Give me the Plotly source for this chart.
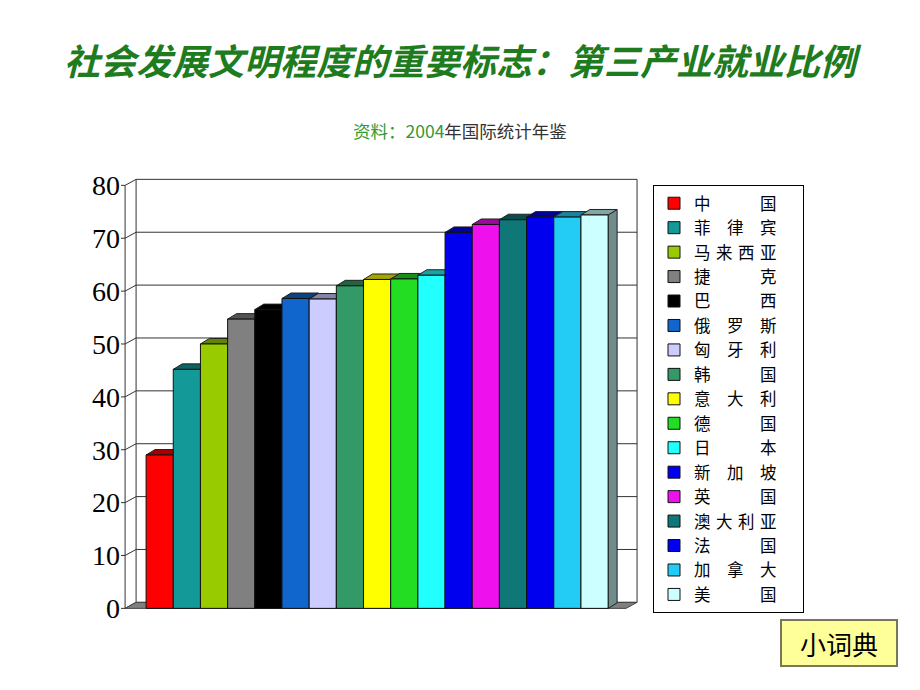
"""
第三产业就业比例 - 3D-style bar chart
"""

import plotly.graph_objects as go


# data
countries = ['中\u3000\u3000\u3000国', '菲\u3000律\u3000宾', '马\u2004来\u2004西\u2004亚', '捷\u3000\u3000\u3000克',
             '巴\u3000\u3000\u3000西', '俄\u3000罗\u3000斯', '匈\u3000牙\u3000利', '韩\u3000\u3000\u3000国',
             '意\u3000大\u3000利', '德\u3000\u3000\u3000国', '日\u3000\u3000\u3000本', '新\u3000加\u3000坡',
             '英\u3000\u3000\u3000国', '澳\u2004大\u2004利\u2004亚', '法\u3000\u3000\u3000国', '加\u3000拿\u3000大',
             '美\u3000\u3000\u3000国']
values = [29.0, 45.2, 50.0, 54.7, 56.5, 58.6, 58.5, 61.0, 62.2, 62.3, 63.0, 71.1, 72.6, 73.5, 74.0, 74.0, 74.4]
colors = ['#FF0000', '#149999', '#99CC00', '#808080', '#000000', '#1066CC', '#CCCCFF', '#339966', '#FFFF00',
          '#22DD22', '#22FFFF', '#0000EE', '#EE11EE', '#0F7777', '#0000EE', '#22CCF5', '#CCFFFF']
y_ticks = [0, 10, 20, 30, 40, 50, 60, 70, 80]


# geometry of the fake 3D box (data units)
x0 = -1.2727          # front axis
x_wall = 17.564       # right edge of back wall
dxw, dyw = 0.405, 1.135   # wall depth offset
ddx, ddy = 0.33, 1.04     # bar depth offset
W, H = 920, 690
OFF = 8   # page body margin


def darker(c, f=0.6):
    c = c.lstrip('#')
    r, g, b = (int(c[i:i+2], 16) for i in (0, 2, 4))
    return '#%02x%02x%02x' % (int(r*f), int(g*f), int(b*f))


def px(x):
    return (x - OFF) / W


def py(y):
    return (H - y + OFF) / H


shapes = []
line = dict(color='#333333', width=1)
# back wall grid lines + diagonals to the front axis
for v in y_ticks:
    shapes.append(dict(type='line', xref='x', yref='y', layer='below', x0=x0+dxw, y0=v+dyw, x1=x_wall, y1=v+dyw, line=line))
    shapes.append(dict(type='line', xref='x', yref='y', layer='below', x0=x0, y0=v, x1=x0+dxw, y1=v+dyw, line=line))
    shapes.append(dict(type='line', xref='x', yref='y', layer='below', x0=x0-0.15, y0=v, x1=x0, y1=v, line=line))
shapes.append(dict(type='line', xref='x', yref='y', layer='below', x0=x0+dxw, y0=dyw, x1=x0+dxw, y1=80+dyw, line=line))
shapes.append(dict(type='line', xref='x', yref='y', layer='below', x0=x_wall, y0=dyw, x1=x_wall, y1=80+dyw, line=line))
shapes.append(dict(type='line', xref='x', yref='y', layer='below', x0=x0, y0=0, x1=x0, y1=80, line=line))
# floor
shapes.append(dict(type='path', xref='x', yref='y', layer='below',
                   path=f'M{x0},0 L{x_wall-dxw},0 L{x_wall},{dyw} L{x0+dxw},{dyw} Z',
                   fillcolor='#808080', line=dict(color='#404040', width=1)))
# bar sides and tops
for i, (v, c) in enumerate(zip(values, colors)):
    shapes.append(dict(type='path', xref='x', yref='y', layer='below',
                       path=f'M{i+0.5},0 L{i+0.5},{v} L{i+0.5+ddx},{v+ddy} L{i+0.5+ddx},{ddy} Z',
                       fillcolor=darker(c, 0.55), line=dict(color='#222222', width=1)))
    shapes.append(dict(type='path', xref='x', yref='y', layer='below',
                       path=f'M{i-0.5},{v} L{i+0.5},{v} L{i+0.5+ddx},{v+ddy} L{i-0.5+ddx},{v+ddy} Z',
                       fillcolor=darker(c, 0.65), line=dict(color='#222222', width=1)))

fig = go.Figure()
for i, (name, v, c) in enumerate(zip(countries, values, colors)):
    # trailing ideographic space widens the legend box a bit
    fig.add_trace(go.Bar(x=[i], y=[v], width=1, name=name + '\u3000\u2005',
                         marker=dict(color=c, line=dict(color='#111111', width=1))))

# plot area placed with domains so the legend does not push margins
fig.update_layout(
    width=W, height=H, barmode='overlay',
    margin=dict(l=0, r=0, t=0, b=0, autoexpand=False),
    paper_bgcolor='white', plot_bgcolor='white',
    font=dict(family='Noto Sans CJK SC', color='black'),
    xaxis=dict(domain=[px(121), px(641)], range=[x0-0.15, x0-0.15+520/27.18], visible=False, automargin=False),
    yaxis=dict(domain=[py(611), py(178)], range=[-0.5, -0.5+433/5.2875], tickvals=y_ticks, showgrid=False,
               zeroline=False, showline=False, ticks='', automargin=False,
               tickfont=dict(family='Liberation Serif', size=28, color='black')),
    shapes=shapes,
    showlegend=True,
    legend=dict(x=px(653), y=py(185), xanchor='left', yanchor='top', bgcolor='white',
                bordercolor='black', borderwidth=1, font=dict(size=16.5, family='Noto Sans CJK SC', color='black')),
    annotations=[
        dict(text='社会发展文明程度的重要标志：第三产业就业比例', xref='paper', yref='paper', x=px(463), y=py(59),
             xanchor='center', yanchor='middle', showarrow=False,
             font=dict(size=36, color='#1E7B1E', weight='bold', style='italic')),
        dict(text="<span style='color:#339933'>资料：2004</span><span style='color:#333333'>年国际统计年鉴</span>",
             xref='paper', yref='paper', x=px(460), y=py(131), xanchor='center', yanchor='middle',
             showarrow=False, font=dict(size=17.5)),
        dict(text='小词典', xref='paper', yref='paper', x=px(839), y=py(643), xanchor='center', yanchor='middle',
             showarrow=False, width=112, height=42, bgcolor='#FFFF99', bordercolor='#77775A', borderwidth=2,
             borderpad=1, font=dict(size=26, color='black')),
    ],
)
fig.write_html("out.html")
